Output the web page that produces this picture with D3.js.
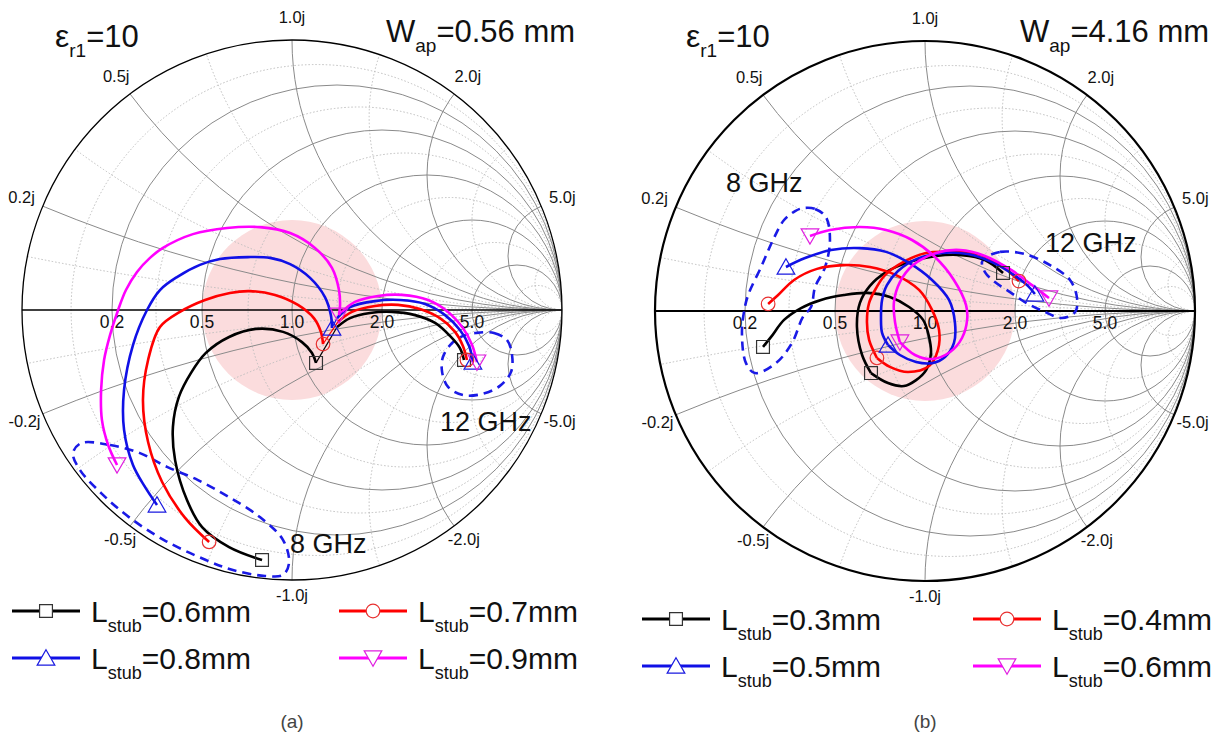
<!DOCTYPE html>
<html>
<head>
<meta charset="utf-8">
<script src="https://cdn.jsdelivr.net/npm/d3@7"></script>
<style>
  html, body { margin: 0; padding: 0; background: #fff; }
  svg { display: block; font-family: "Liberation Sans", Arial, sans-serif; }
</style>
</head>
<body>
<svg id="fig" width="1229" height="744"></svg>
<script>
// ---------------- Smith chart grid values ----------------
const majorValues = [0.2, 0.5, 1.0, 2.0, 5.0];
const minorValues = [0.1, 0.33, 0.72, 1.4, 3.0, 10];
const resistanceLabels = ["0.2", "0.5", "1.0", "2.0", "5.0"];
const reactanceTicks = [1.0, 0.5, 2.0, 0.2, 5.0, -0.2, -5.0, -0.5, -2.0, -1.0];
const reactanceLabels = ["1.0j", "0.5j", "2.0j", "0.2j", "5.0j", "-0.2j", "-5.0j", "-0.5j", "-2.0j", "-1.0j"];
const matchedVSWR = 2;               // shaded region: VSWR <= 2
const freqLabels = ["8 GHz", "12 GHz"];

// ---------------- panel (a): W_ap = 0.56 mm ----------------
// reflection coefficient [Re, Im]; "low" runs from 8 GHz, "high" ends at 12 GHz
const stubA = ["0.6mm", "0.7mm", "0.8mm", "0.9mm"];
const gammaA06low = [[-0.111,-0.926],[-0.233,-0.878],[-0.333,-0.804],[-0.389,-0.704],[-0.433,-0.556],[-0.441,-0.433],[-0.419,-0.322],[-0.374,-0.233],[-0.319,-0.159],[-0.233,-0.100],[-0.133,-0.070],[-0.033,-0.081],[0.037,-0.119],[0.074,-0.159],[0.089,-0.196]];
const gammaA06high = [[0.167,-0.063],[0.215,-0.030],[0.289,-0.011],[0.370,-0.007],[0.456,-0.019],[0.530,-0.048],[0.585,-0.096],[0.622,-0.141],[0.637,-0.185]];
const gammaA07low = [[-0.307,-0.859],[-0.396,-0.770],[-0.481,-0.637],[-0.533,-0.489],[-0.552,-0.333],[-0.533,-0.185],[-0.489,-0.063],[-0.415,-0.007],[-0.322,0.037],[-0.230,0.063],[-0.156,0.070],[-0.063,0.056],[0.022,0.019],[0.081,-0.030],[0.107,-0.081],[0.115,-0.126]];
const gammaA07high = [[0.170,-0.044],[0.222,-0.007],[0.307,0.015],[0.393,0.019],[0.474,0.004],[0.548,-0.030],[0.604,-0.081],[0.633,-0.133],[0.648,-0.185]];
const gammaA08low = [[-0.500,-0.722],[-0.544,-0.656],[-0.589,-0.574],[-0.622,-0.444],[-0.622,-0.296],[-0.589,-0.130],[-0.537,0.000],[-0.489,0.074],[-0.426,0.122],[-0.341,0.167],[-0.267,0.189],[-0.163,0.196],[-0.081,0.193],[-0.007,0.170],[0.067,0.119],[0.122,0.048],[0.144,-0.019],[0.148,-0.067]];
const gammaA08high = [[0.167,-0.030],[0.215,0.011],[0.307,0.033],[0.400,0.037],[0.493,0.022],[0.567,-0.019],[0.622,-0.074],[0.656,-0.133],[0.670,-0.193]];
const gammaA09low = [[-0.648,-0.574],[-0.681,-0.500],[-0.704,-0.407],[-0.707,-0.296],[-0.696,-0.185],[-0.674,-0.093],[-0.644,0.000],[-0.615,0.074],[-0.574,0.141],[-0.526,0.193],[-0.478,0.230],[-0.367,0.281],[-0.241,0.304],[-0.119,0.307],[-0.007,0.285],[0.085,0.230],[0.148,0.156],[0.174,0.074],[0.178,0.019],[0.174,-0.019]];
const gammaA09high = [[0.185,-0.007],[0.233,0.030],[0.319,0.052],[0.407,0.056],[0.504,0.037],[0.578,-0.007],[0.633,-0.067],[0.667,-0.130],[0.685,-0.193]];
const regionA8 = [[-0.781,-0.493],[-0.674,-0.500],[-0.563,-0.530],[-0.463,-0.581],[-0.348,-0.630],[-0.233,-0.693],[-0.119,-0.767],[-0.033,-0.852],[-0.011,-0.937],[-0.033,-0.981],[-0.100,-0.985],[-0.219,-0.963],[-0.319,-0.926],[-0.474,-0.852],[-0.604,-0.767],[-0.704,-0.681],[-0.785,-0.593],[-0.811,-0.530]];
const regionA12 = [[0.681,-0.085],[0.748,-0.085],[0.796,-0.111],[0.815,-0.167],[0.811,-0.230],[0.770,-0.281],[0.704,-0.311],[0.633,-0.315],[0.578,-0.285],[0.556,-0.230],[0.559,-0.174],[0.593,-0.122],[0.641,-0.093]];

// ---------------- panel (b): W_ap = 4.16 mm ----------------
const stubB = ["0.3mm", "0.4mm", "0.5mm", "0.6mm"];
const gammaB03low = [[-0.600,-0.133],[-0.570,-0.096],[-0.522,-0.033],[-0.459,0.011],[-0.385,0.041],[-0.300,0.059],[-0.215,0.067],[-0.130,0.052],[-0.059,0.015],[-0.007,-0.033],[0.015,-0.096],[0.022,-0.156],[0.004,-0.219],[-0.033,-0.256],[-0.078,-0.278],[-0.137,-0.267],[-0.200,-0.230]];
const gammaB03high = [[-0.200,-0.230],[-0.233,-0.163],[-0.252,-0.059],[-0.241,0.030],[-0.204,0.093],[-0.144,0.144],[-0.059,0.181],[0.041,0.204],[0.137,0.207],[0.222,0.189],[0.289,0.141]];
const gammaB04low = [[-0.581,0.026],[-0.544,0.059],[-0.485,0.115],[-0.400,0.156],[-0.300,0.170],[-0.204,0.163],[-0.107,0.133],[-0.022,0.078],[0.026,0.004],[0.052,-0.070],[0.048,-0.144],[0.015,-0.204],[-0.063,-0.226],[-0.130,-0.207],[-0.178,-0.174]];
const gammaB04high = [[-0.178,-0.174],[-0.207,-0.107],[-0.215,-0.041],[-0.207,0.030],[-0.181,0.085],[-0.148,0.133],[-0.081,0.181],[0.004,0.215],[0.100,0.219],[0.193,0.211],[0.281,0.170],[0.348,0.111]];
const gammaB05low = [[-0.515,0.163],[-0.444,0.196],[-0.348,0.226],[-0.241,0.233],[-0.144,0.219],[-0.059,0.178],[0.026,0.115],[0.089,0.041],[0.111,-0.044],[0.107,-0.119],[0.074,-0.170],[0.026,-0.193],[-0.033,-0.189],[-0.093,-0.163],[-0.137,-0.126]];
const gammaB05high = [[-0.137,-0.126],[-0.159,-0.081],[-0.163,-0.026],[-0.159,0.041],[-0.141,0.096],[-0.100,0.148],[-0.030,0.193],[0.063,0.215],[0.159,0.211],[0.248,0.181],[0.330,0.133],[0.381,0.093],[0.407,0.063]];
const gammaB06low = [[-0.426,0.278],[-0.352,0.300],[-0.241,0.311],[-0.144,0.300],[-0.048,0.263],[0.037,0.200],[0.107,0.115],[0.152,0.022],[0.156,-0.033],[0.137,-0.100],[0.093,-0.152],[0.026,-0.178],[-0.037,-0.163],[-0.093,-0.115]];
const gammaB06high = [[-0.093,-0.115],[-0.111,-0.041],[-0.115,0.033],[-0.093,0.107],[-0.044,0.170],[0.041,0.215],[0.130,0.226],[0.222,0.204],[0.319,0.152],[0.400,0.093],[0.459,0.048]];
const regionB8 = [[-0.452,0.381],[-0.407,0.378],[-0.367,0.348],[-0.352,0.263],[-0.370,0.163],[-0.407,0.089],[-0.422,0.015],[-0.452,-0.022],[-0.493,-0.119],[-0.552,-0.193],[-0.630,-0.230],[-0.663,-0.193],[-0.678,-0.081],[-0.667,0.015],[-0.652,0.067],[-0.607,0.163],[-0.563,0.263],[-0.522,0.337],[-0.481,0.370]];
const regionB12 = [[0.222,0.196],[0.278,0.219],[0.370,0.211],[0.463,0.170],[0.537,0.115],[0.563,0.048],[0.556,-0.004],[0.507,-0.026],[0.437,0.000],[0.370,0.033],[0.315,0.070],[0.259,0.107],[0.222,0.144],[0.211,0.181]];

// ---------------- styling ----------------
const seriesColors = ["#000000", "#ff0000", "#1010e6", "#ff00ff"];
const markerStroke = ["#333333", "#e83030", "#1a1ae0", "#e020e0"];
const markerTypes = ["square", "circle", "triangle", "triangleDown"];

const panels = [
  {
    id: "a", cx: 292, cy: 310, R: 270, eps: "10", wap: "0.56 mm", tag: "(a)",
    stubs: stubA,
    series: [[gammaA06low, gammaA06high], [gammaA07low, gammaA07high], [gammaA08low, gammaA08high], [gammaA09low, gammaA09high]],
    regions: [regionA8, regionA12],
    rimWidth: 1.3, axisWidth: 1.5,
    titleEpsX: 55, titleWX: 386,
    freqPos: [[290, 553], [440, 431]],
    legendCols: [12, 339], legendRows: [611, 658]
  },
  {
    id: "b", cx: 925, cy: 311, R: 270, eps: "10", wap: "4.16 mm", tag: "(b)",
    stubs: stubB,
    series: [[gammaB03low, gammaB03high], [gammaB04low, gammaB04high], [gammaB05low, gammaB05high], [gammaB06low, gammaB06high]],
    regions: [regionB8, regionB12],
    rimWidth: 2.2, axisWidth: 2,
    titleEpsX: 686, titleWX: 1020,
    freqPos: [[726, 192], [1045, 252]],
    legendCols: [642, 973], legendRows: [619, 666]
  }
];

const svg = d3.select("#fig");

function symbolPath(type, size) {
  const t = type === "square" ? d3.symbolSquare
          : type === "circle" ? d3.symbolCircle
          : d3.symbolTriangle;
  return d3.symbol().type(t).size(size)();
}
const markerSizes = { square: 165, circle: 145, triangle: 135, triangleDown: 135 };

function drawMarker(g, px, py, i, fill) {
  const type = markerTypes[i];
  const rot = type === "triangleDown" ? 180 : 0;
  const dy = type === "triangle" ? 2 : (type === "triangleDown" ? -2 : 0);
  g.append("path")
    .attr("d", symbolPath(type, markerSizes[type]))
    .attr("transform", `translate(${px},${py + dy}) rotate(${rot})`)
    .attr("fill", fill)
    .attr("stroke", markerStroke[i])
    .attr("stroke-width", 1.2);
}

function drawPanel(cfg) {
  const g = svg.append("g").attr("class", "panel-" + cfg.id);
  const x = d3.scaleLinear().domain([-1, 1]).range([cfg.cx - cfg.R, cfg.cx + cfg.R]);
  const y = d3.scaleLinear().domain([-1, 1]).range([cfg.cy + cfg.R, cfg.cy - cfg.R]);
  const len = v => x(v) - x(0);

  const clipId = "unit-" + cfg.id;
  g.append("clipPath").attr("id", clipId)
    .append("circle").attr("cx", x(0)).attr("cy", y(0)).attr("r", len(1));

  // matched region (VSWR circle)
  const gMag = (matchedVSWR - 1) / (matchedVSWR + 1);
  g.append("circle")
    .attr("cx", x(0)).attr("cy", y(0)).attr("r", len(gMag))
    .attr("fill", "#fbdcdd");

  const grid = g.append("g").attr("clip-path", `url(#${clipId})`).attr("fill", "none");

  function gridSet(values, stroke, dash, width) {
    values.forEach(v => {
      // constant resistance circle
      grid.append("circle")
        .attr("cx", x(v / (1 + v))).attr("cy", y(0)).attr("r", len(1 / (1 + v)))
        .attr("stroke", stroke).attr("stroke-width", width).attr("stroke-dasharray", dash);
      // constant reactance arcs
      [v, -v].forEach(xv => {
        grid.append("circle")
          .attr("cx", x(1)).attr("cy", y(1 / xv)).attr("r", len(1 / Math.abs(xv)))
          .attr("stroke", stroke).attr("stroke-width", width).attr("stroke-dasharray", dash);
      });
    });
  }
  gridSet(minorValues, "#bdbdbd", "1.5,2", 1);
  gridSet(majorValues, "#8a8a8a", null, 1);

  // real axis and unit circle
  g.append("line")
    .attr("x1", x(-1)).attr("x2", x(1)).attr("y1", y(0)).attr("y2", y(0))
    .attr("stroke", "#000").attr("stroke-width", cfg.axisWidth);
  g.append("circle")
    .attr("cx", x(0)).attr("cy", y(0)).attr("r", len(1))
    .attr("fill", "none").attr("stroke", "#000").attr("stroke-width", cfg.rimWidth);

  // resistance labels along the real axis
  majorValues.forEach((v, i) => {
    g.append("text")
      .attr("x", x((v - 1) / (v + 1))).attr("y", y(0) + 18)
      .attr("text-anchor", "middle")
      .attr("font-size", 17.5).attr("fill", "#111")
      .text(resistanceLabels[i]);
  });

  // reactance labels around the rim
  reactanceTicks.forEach((v, i) => {
    const re = (v * v - 1) / (v * v + 1);
    const im = 2 * v / (v * v + 1);
    const f = im >= 0 ? 1.085 : 1.085 + 0.03 * im;
    g.append("text")
      .attr("x", x(re * f)).attr("y", y(im * f))
      .attr("text-anchor", "middle").attr("dominant-baseline", "central")
      .attr("font-size", 16.5).attr("fill", "#111")
      .text(reactanceLabels[i]);
  });

  // frequency bands (dashed outlines)
  const closed = d3.line().x(d => x(d[0])).y(d => y(d[1])).curve(d3.curveCatmullRomClosed.alpha(0.5));
  cfg.regions.forEach(r => {
    g.append("path").attr("d", closed(r))
      .attr("fill", "none").attr("stroke", "#1a1ae6").attr("stroke-width", 2.6)
      .attr("stroke-dasharray", "9,6");
  });

  // traces
  const line = d3.line().x(d => x(d[0])).y(d => y(d[1])).curve(d3.curveCatmullRom.alpha(0.5));
  cfg.series.forEach(([low, high], i) => {
    const sg = g.append("g");
    const a = low[low.length - 1], b = high[0];
    if (a[0] !== b[0] || a[1] !== b[1]) {
      sg.append("line")
        .attr("x1", x(a[0])).attr("y1", y(a[1])).attr("x2", x(b[0])).attr("y2", y(b[1]))
        .attr("stroke", seriesColors[i]).attr("stroke-width", 1.2);
    }
    [low, high].forEach(seg => {
      sg.append("path").attr("d", line(seg))
        .attr("fill", "none").attr("stroke", seriesColors[i]).attr("stroke-width", 2.6)
        .attr("stroke-linejoin", "round");
    });
  });
  cfg.series.forEach(([low, high], i) => {
    [low[0], low[low.length - 1], high[high.length - 1]].forEach(p => {
      drawMarker(g, x(p[0]), y(p[1]), i, "none");
    });
  });

  // frequency annotations
  cfg.freqPos.forEach((p, i) => {
    g.append("text").attr("x", p[0]).attr("y", p[1])
      .attr("font-size", 27).attr("fill", "#111").text(freqLabels[i]);
  });

  // titles
  const t1 = g.append("text").attr("x", cfg.titleEpsX).attr("y", 47).attr("fill", "#111");
  t1.append("tspan").attr("font-size", 32).text("ε");
  t1.append("tspan").attr("font-size", 19).attr("dy", 10).text("r1");
  t1.append("tspan").attr("font-size", 31).attr("dy", -10).text("=" + cfg.eps);
  const t2 = g.append("text").attr("x", cfg.titleWX).attr("y", 42).attr("fill", "#111");
  t2.append("tspan").attr("font-size", 31).text("W");
  t2.append("tspan").attr("font-size", 19).attr("dy", 10).text("ap");
  t2.append("tspan").attr("font-size", 31).attr("dy", -10).text("=" + cfg.wap);

  // legend
  cfg.stubs.forEach((s, i) => {
    const lx = cfg.legendCols[i % 2];
    const ly = cfg.legendRows[Math.floor(i / 2)];
    const lg = g.append("g");
    lg.append("line").attr("x1", lx).attr("x2", lx + 68).attr("y1", ly).attr("y2", ly)
      .attr("stroke", seriesColors[i]).attr("stroke-width", 3.2);
    drawMarker(lg, lx + 34, ly, i, "#fff");
    const tt = lg.append("text").attr("x", lx + 79).attr("y", ly + 11).attr("fill", "#111");
    tt.append("tspan").attr("font-size", 30).text("L");
    tt.append("tspan").attr("font-size", 18).attr("dy", 10).text("stub");
    tt.append("tspan").attr("font-size", 30).attr("dy", -10).text("=" + s);
  });

  // panel tag
  g.append("text").attr("x", x(0)).attr("y", 728)
    .attr("text-anchor", "middle").attr("font-size", 19).attr("fill", "#444")
    .text(cfg.tag);
}

panels.forEach(drawPanel);
</script>
</body>
</html>
